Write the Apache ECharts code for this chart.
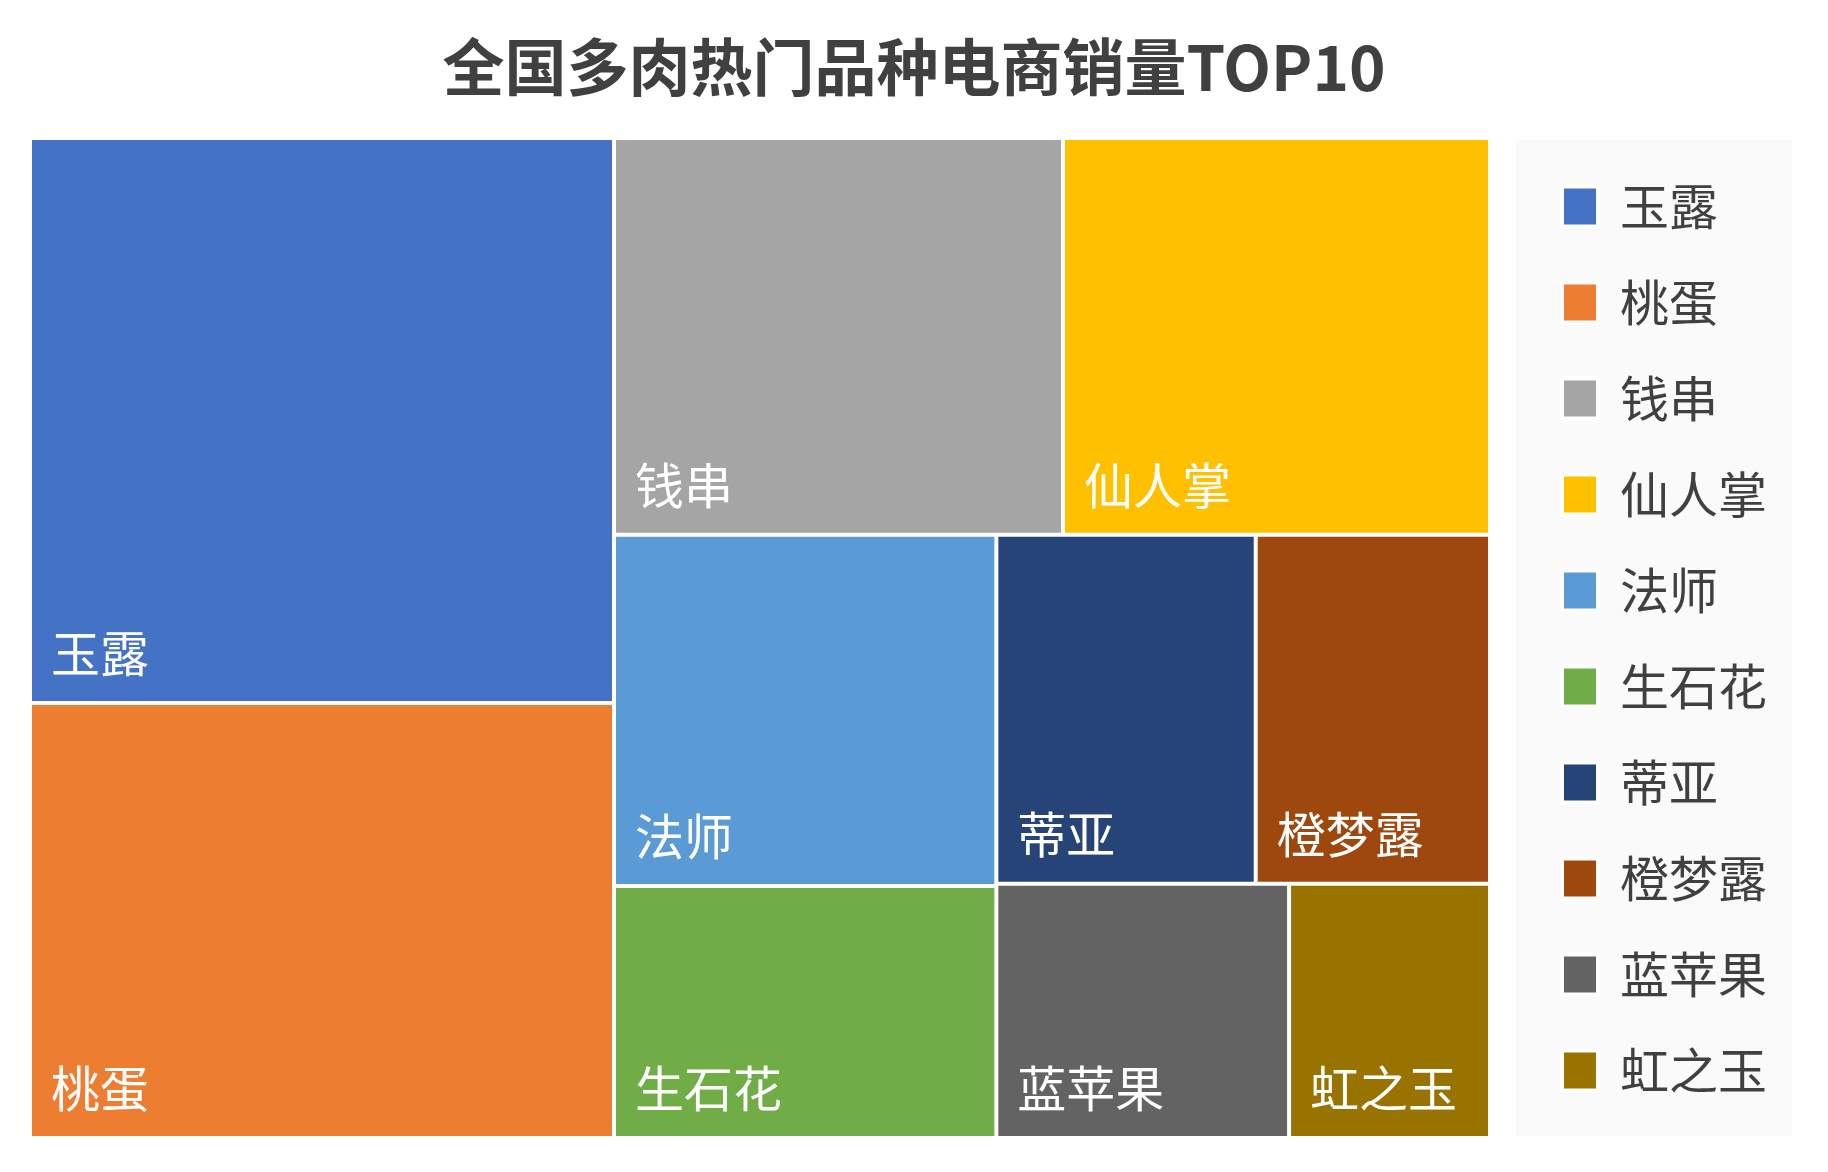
<!DOCTYPE html>
<html>
<head>
<meta charset="utf-8">
<title>全国多肉热门品种电商销量TOP10</title>
<script src="https://cdn.jsdelivr.net/npm/echarts@6/dist/echarts.min.js"></script>
<style>
  html, body { margin: 0; padding: 0; background: #fff; }
  #chart { width: 1828px; height: 1172px; }
</style>
</head>
<body>
<div id="chart"></div>
<script>
// 品种与销量（按图中面积估算）
const varieties = ["玉露", "桃蛋", "钱串", "仙人掌", "法师", "生石花", "蒂亚", "橙梦露", "蓝苹果", "虹之玉"];
const sales = [226, 174, 122, 116, 92, 66, 62, 56, 51, 35];
const palette = ["#4472C4", "#ED7D31", "#A5A5A5", "#FFC000", "#5B9BD5", "#70AD47", "#264478", "#9E480E", "#636363", "#997300"];

const FONT = '"Noto Sans CJK SC", "Noto Sans", sans-serif';

const chart = echarts.init(document.getElementById("chart"));

const option = {
    animation: false,
    title: {
        text: "全国多肉热门品种电商销量TOP10",
        left: "center",
        top: 31,
        textStyle: {
            fontFamily: FONT,
            fontSize: 62,
            fontWeight: "bold",
            color: "#404040",
        },
    },
    graphic: [
        {
            type: "rect",
            left: 1516,
            top: 140,
            shape: { width: 276, height: 996 },
            style: { fill: "#fafafa" },
            z: -1,
        },
    ],
    legend: {
        data: varieties,
        orient: "vertical",
        left: 1560,
        top: 182,
        padding: 0,
        icon: "rect",
        itemWidth: 36,
        itemHeight: 40,
        itemGap: 47,
        selectedMode: false,
        itemStyle: { borderColor: "#fff", borderWidth: 4 },
        textStyle: {
            fontFamily: FONT,
            fontSize: 49,
            lineHeight: 49,
            color: "#404040",
            padding: [0, 0, 0, 17],
        },
    },
    series: [
        {
            // 只用于生成图例
            type: "pie",
            center: [-500, -500],
            radius: 0,
            silent: true,
            label: { show: false },
            labelLine: { show: false },
            data: varieties.map((name, i) => ({
                name,
                value: sales[i],
                itemStyle: { color: palette[i] },
            })),
        },
        {
            type: "treemap",
            left: 32,
            top: 140,
            width: 1456,
            height: 996,
            roam: false,
            nodeClick: false,
            squareRatio: 1,
            breadcrumb: { show: false },
            itemStyle: { gapWidth: 4, borderWidth: 0, borderColor: "#fff" },
            label: {
                show: true,
                position: "insideBottomLeft",
                distance: 20,
                offset: [-1, -3],
                padding: 0,
                color: "#fff",
                fontFamily: FONT,
                fontSize: 49,
            },
            upperLabel: { show: false },
            emphasis: { disabled: true },
            data: varieties.map((name, i) => ({
                name,
                value: sales[i],
                itemStyle: { color: palette[i] },
            })),
        },
    ],
};

chart.setOption(option);
window.addEventListener("resize", () => chart.resize());
</script>
</body>
</html>
